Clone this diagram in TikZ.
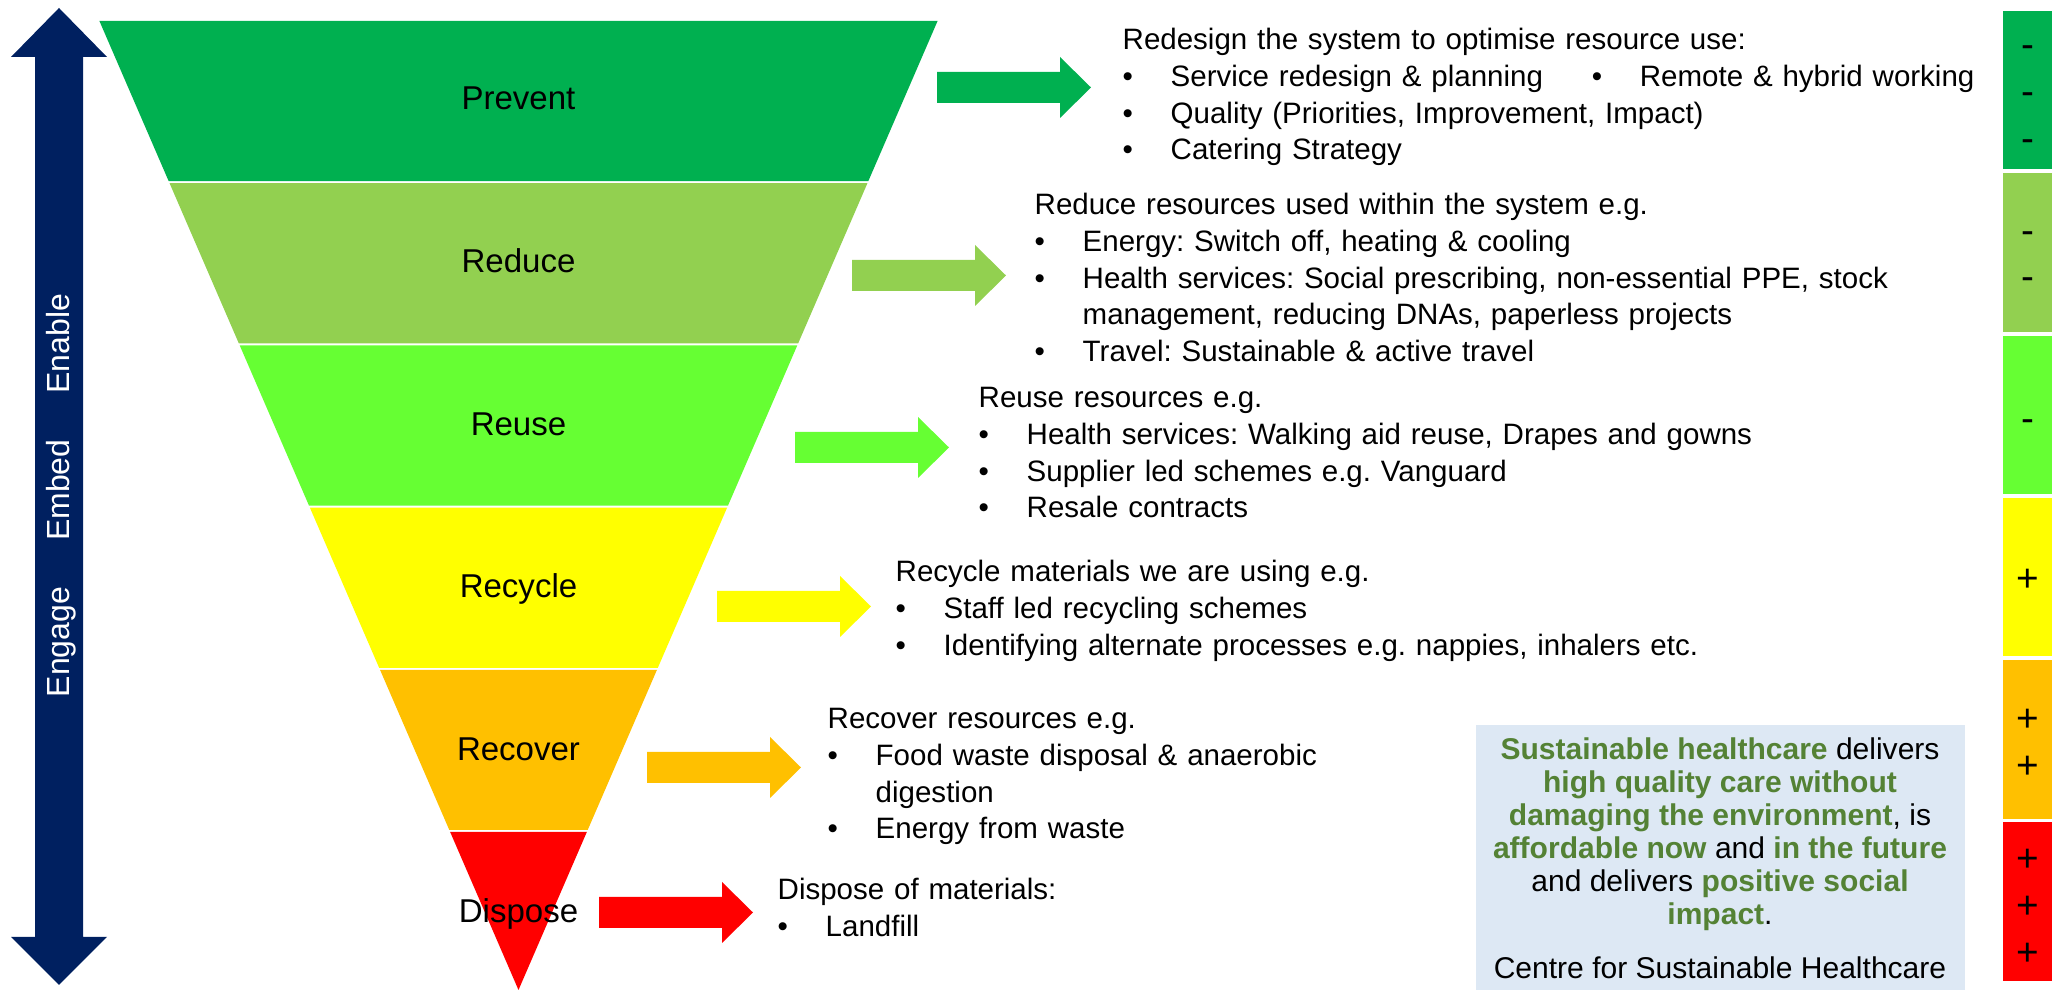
\documentclass[tikz,border=0pt]{standalone}
\usepackage{fontspec}
\setmainfont{Liberation Sans}
\frenchspacing

\definecolor{cnavy}{HTML}{002060}
\definecolor{cprevent}{HTML}{00B050}
\definecolor{creduce}{HTML}{92D050}
\definecolor{creuse}{HTML}{66FF33}
\definecolor{crecycle}{HTML}{FFFF00}
\definecolor{crecover}{HTML}{FFC000}
\definecolor{cdispose}{HTML}{FF0000}
\definecolor{cbox}{HTML}{DDE8F4}
\definecolor{cgreen}{HTML}{548235}

\newcommand{\itm}{\makebox[0.48cm][l]{\textbullet}}
\newcommand{\grn}[1]{\textcolor{cgreen}{\textbf{#1}}}

\begin{document}
\begin{tikzpicture}[x=0.01cm,y=-0.01cm,
  lab/.style={anchor=base,inner sep=0pt,font=\fontsize{9.39}{11}\selectfont},
  blk/.style={anchor=base west,inner sep=0pt,text width=9cm,align=left,
    font=\fontsize{8.39}{10.39}\selectfont},
  sgn/.style={inner sep=0pt,font=\fontsize{11}{13}\selectfont}]

      \useasboundingbox (0,0) rectangle (2053,992);

      % Double arrow on the left
      \fill[cnavy] (35,57) -- (11,57) -- (59,8) -- (107,57) -- (83,57)
          -- (83,937) -- (107,937) -- (59,985) -- (11,937) -- (35,937) -- cycle;
      \node[rotate=90,anchor=base,white,inner sep=0pt,font=\fontsize{9.1}{11}\selectfont]
          (eee) at (70,495.5) {Engage\hspace{0.46cm}Embed\hspace{0.46cm}Enable};

      % Funnel bands, labels and arrows
      \foreach \k/\col/\lab/\ax/\ay in {0/cprevent/Prevent/937/87.5,
          1/creduce/Reduce/852/275.5, 2/creuse/Reuse/795/447.5,
          3/crecycle/Recycle/717/606.5, 4/crecover/Recover/647/767.5,
          5/cdispose/Dispose/599/912.5}
      {
          \pgfmathsetmacro\yt{20+162.2*\k+1}
          \pgfmathsetmacro\yb{min(990,20+162.2*(\k+1)-1)}
          \fill[\col] ({518.5-0.4325*(990-\yt)},\yt) -- ({518.5+0.4325*(990-\yt)},\yt)
              -- ({518.5+0.4325*(990-\yb)},\yb) -- ({518.5-0.4325*(990-\yb)},\yb) -- cycle;
          \fill[\col] (\ax,\ay-15.5) -- (\ax+123,\ay-15.5) -- (\ax+123,\ay-30.5)
              -- (\ax+154,\ay) -- (\ax+123,\ay+30.5) -- (\ax+123,\ay+15.5)
              -- (\ax,\ay+15.5) -- cycle;
          \node[lab] (lab\k) at (518.5,{110+162.6*\k}) {\lab};
      }

      % Text next to the arrows
      \node[blk] (tprevent) at (1122,50) {Redesign the system to optimise resource use:\\
          \itm\makebox[4.21cm][l]{Service redesign \& planning}\itm Remote \& hybrid working\\
          \itm Quality (Priorities, Improvement, Impact)\\
          \itm Catering Strategy};

      \node[blk] (treduce) at (1034,215) {Reduce resources used within the system e.g.\\
          \itm Energy: Switch off, heating \& cooling\\
          \itm Health services: Social prescribing, non-essential PPE, stock\\
          \hspace*{0.48cm}management, reducing DNAs, paperless projects\\
          \itm Travel: Sustainable \& active travel};

      \node[blk] (treuse) at (978,408) {Reuse resources e.g.\\
          \itm Health services: Walking aid reuse, Drapes and gowns\\
          \itm Supplier led schemes e.g. Vanguard\\
          \itm Resale contracts};

      \node[blk] (trecycle) at (895,582) {Recycle materials we are using e.g.\\
          \itm Staff led recycling schemes\\
          \itm Identifying alternate processes e.g. nappies, inhalers etc.};

      \node[blk] (trecover) at (827,729) {Recover resources e.g.\\
          \itm Food waste disposal \& anaerobic\\
          \hspace*{0.48cm}digestion\\
          \itm Energy from waste};

      \node[blk] (tdispose) at (777,900) {Dispose of materials:\\
          \itm Landfill};

      % Colour bar on the right
      \foreach \k/\col in {0/cprevent,1/creduce,2/creuse,3/crecycle,4/crecover,5/cdispose}
          \fill[\col] (2003,{11+162.3*\k}) rectangle (2052,{169.5+162.3*\k});

      \foreach \y/\s [count=\n] in {51.5/-,98.5/-,145.5/-,237.5/-,283.5/-,425.5/-,
          580/+,720/+,767/+,860/+,907/+,954/+}
          \node[sgn] (sg\n) at (2027.5,\y) {\s};

      % Definition box
      \fill[cbox] (1476,725) rectangle (1965,990);
      \node[anchor=north,align=center,inner sep=0pt,font=\fontsize{8.54}{9.39}\selectfont]
          (vision) at (1720,737) {\grn{Sustainable healthcare} delivers\\
          \grn{high quality care without}\\
          \grn{damaging the environment}, is\\
          \grn{affordable now} and \grn{in the future}\\
          and delivers \grn{positive social}\\
          \grn{impact}.\\[0.21cm]
          Centre for Sustainable Healthcare};

\end{tikzpicture}
\end{document}
